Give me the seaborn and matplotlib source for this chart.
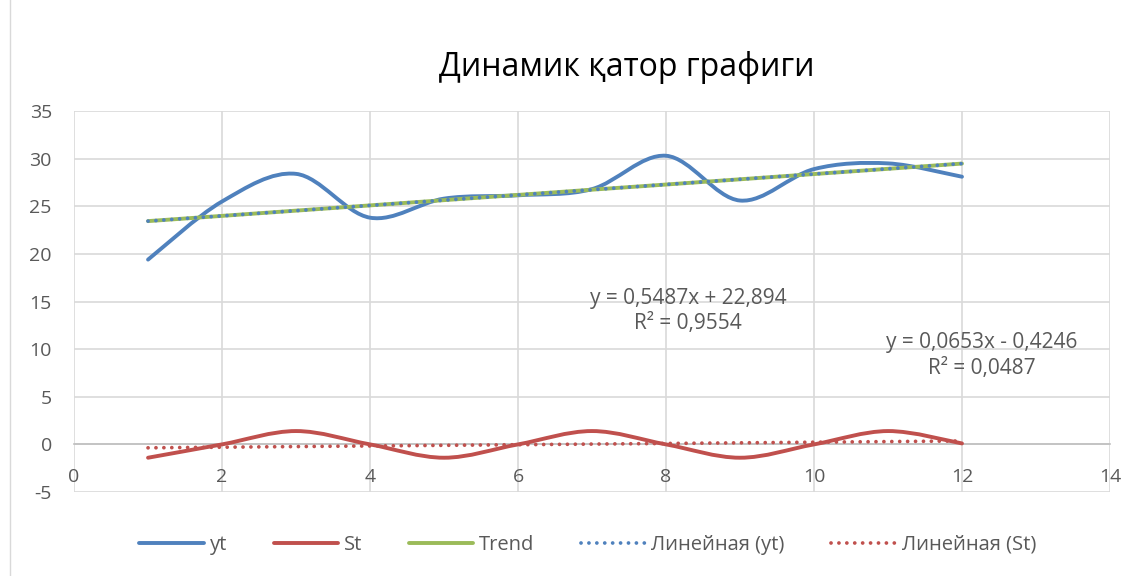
import matplotlib
matplotlib.use("Agg")
import matplotlib.pyplot as plt
import seaborn as sns
from matplotlib.path import Path
from matplotlib.patches import PathPatch, Rectangle
from matplotlib.lines import Line2D

# data
x = [1, 2, 3, 4, 5, 6, 7, 8, 9, 10, 11, 12]
yt = [19.4, 25.5, 28.4, 23.8, 25.8, 26.15, 26.8, 30.3, 25.6, 28.9, 29.5, 28.1]
st = [-1.4, 0.0, 1.4, 0.0, -1.4, 0.0, 1.4, 0.0, -1.4, 0.0, 1.4, 0.1]
trend = [23.44, 23.99, 24.54, 25.09, 25.64, 26.19, 26.74, 27.28, 27.83, 28.38, 28.93, 29.48]
lin_x = [1, 12]
lin_yt = [23.44, 29.48]
lin_st = [-0.36, 0.36]
eq_yt = "y = 0,5487x + 22,894\nR² = 0,9554"
eq_st = "y = 0,0653x - 0,4246\nR² = 0,0487"

BLUE = "#4F81BD"
RED = "#C0504D"
GREEN = "#9BBB59"
GRAY = "#595959"

sns.set_theme(style="white")
plt.rcParams["font.family"] = ["Open Sans", "DejaVu Sans"]
plt.rcParams["axes.unicode_minus"] = False


def smooth_path(xs, ys):
    # excel style smoothed line: cubic bezier segments through the points
    pts = list(zip(xs, ys))
    verts = [pts[0]]
    codes = [Path.MOVETO]
    n = len(pts)
    for i in range(n - 1):
        p0 = pts[i - 1] if i > 0 else pts[i]
        p1 = pts[i]
        p2 = pts[i + 1]
        p3 = pts[i + 2] if i + 2 < n else pts[i + 1]
        c1 = (p1[0] + (p2[0] - p0[0]) / 6, p1[1] + (p2[1] - p0[1]) / 6)
        c2 = (p2[0] - (p3[0] - p1[0]) / 6, p2[1] - (p3[1] - p1[1]) / 6)
        verts += [c1, c2, p2]
        codes += [Path.CURVE4] * 3
    return Path(verts, codes)


fig = plt.figure(figsize=(11.41, 5.76), dpi=100)
ax = fig.add_axes([0.0649, 0.1458, 0.9079, 0.6615])

fig.patches.append(Rectangle((10 / 1141, -0.1), 1.2, 1.3, transform=fig.transFigure,
                             fill=False, edgecolor="#d9d9d9", lw=1))

dots = (0, (0.01, 2.1))

ax.add_patch(PathPatch(smooth_path(x, yt), fill=False, edgecolor=BLUE, lw=2.8,
                       capstyle="round", zorder=3))
ax.add_patch(PathPatch(smooth_path(x, st), fill=False, edgecolor=RED, lw=2.8,
                       capstyle="round", zorder=3))
sns.lineplot(x=x, y=trend, ax=ax, color=GREEN, lw=2.8, zorder=4)
sns.lineplot(x=lin_x, y=lin_yt, ax=ax, color=BLUE, lw=2.7, linestyle=dots,
             dash_capstyle="round", zorder=5)
sns.lineplot(x=lin_x, y=lin_st, ax=ax, color=RED, lw=2.7, linestyle=dots,
             dash_capstyle="round", zorder=5)

ax.set_xlim(0, 14)
ax.set_ylim(-5, 35)
ax.set_xticks(range(0, 15, 2))
ax.set_yticks(range(-5, 36, 5))
ax.grid(True, color="#d9d9d9", lw=1.2)
ax.set_axisbelow(True)
for s in ["top", "right", "left"]:
    ax.spines[s].set_visible(False)
ax.spines["bottom"].set_position(("data", 0))
ax.spines["bottom"].set_color("#bfbfbf")
ax.spines["bottom"].set_linewidth(1.2)
ax.tick_params(axis="x", length=0, pad=17, labelsize=14, labelcolor=GRAY)
ax.tick_params(axis="y", length=0, pad=16, labelsize=14, labelcolor=GRAY)

ax.text(8.3, 14.0, eq_yt, ha="center", va="center", fontsize=15, color=GRAY,
        linespacing=1.3)
ax.text(12.27, 9.35, eq_st, ha="center", va="center", fontsize=15, color=GRAY,
        linespacing=1.3)

fig.text(0.5495, 0.882, "Динамик қатор графиги", ha="center", va="center",
         fontsize=23, color="black")

handles = [
    Line2D([], [], color=BLUE, lw=2.8),
    Line2D([], [], color=RED, lw=2.8),
    Line2D([], [], color=GREEN, lw=2.8),
    Line2D([], [], color=BLUE, lw=2.7, linestyle=dots, dash_capstyle="round"),
    Line2D([], [], color=RED, lw=2.7, linestyle=dots, dash_capstyle="round"),
]
labels = ["yt", "St", "Trend", "Линейная (yt)", "Линейная (St)"]
leg = fig.legend(handles, labels, loc="center", bbox_to_anchor=(0.515, 0.054),
                 ncol=5, frameon=False, fontsize=14.5, handlelength=3.2,
                 columnspacing=2.3, handletextpad=0.3)
for t in leg.get_texts():
    t.set_color(GRAY)

fig.savefig("out.png", dpi=100)
